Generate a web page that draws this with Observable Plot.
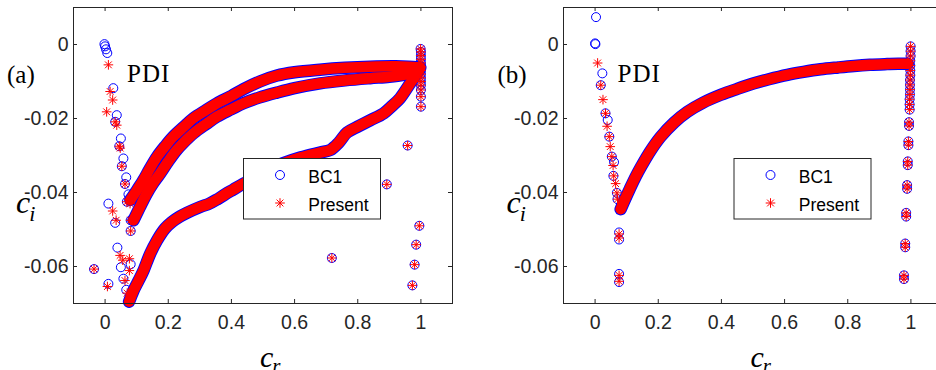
<!DOCTYPE html>
<html><head><meta charset="utf-8">
<script src="https://cdn.jsdelivr.net/npm/d3@7"></script>
<script src="https://cdn.jsdelivr.net/npm/@observablehq/plot@0.6"></script>
<style>
html,body{margin:0;padding:0;background:#fff;overflow:hidden;}
#wrap{position:relative;width:936px;height:370px;overflow:hidden;}
#wrap > svg{position:absolute;top:0;}
</style></head><body><div id="wrap"></div>
<script>
// ---------- axis ticks ----------
const xTicks = [0, 0.2, 0.4, 0.6, 0.8, 1];
const xTickLabels = ["0", "0.2", "0.4", "0.6", "0.8", "1"];
const yTicks = [0, -0.02, -0.04, -0.06];
const yTickLabels = ["0", "-0.02", "-0.04", "-0.06"];
const seriesNames = ["BC1", "Present"];

// ---------- panel (a) ----------
const aBandA_cr = [0.080,0.100,0.121,0.142,0.164,0.190,0.216,0.250,0.280,0.320,0.354,0.400,0.440,0.490,0.544,0.600,0.680,0.760,0.840,0.920,0.960,0.995];
const aBandA_ci = [-0.0420,-0.0395,-0.0367,-0.0335,-0.0304,-0.0275,-0.0249,-0.0222,-0.0199,-0.0177,-0.0159,-0.0139,-0.0120,-0.0100,-0.0084,-0.0075,-0.0068,-0.0063,-0.0060,-0.0059,-0.0060,-0.0062];
const aBandB_cr = [0.090,0.110,0.132,0.152,0.174,0.200,0.227,0.250,0.280,0.320,0.354,0.400,0.438,0.490,0.544,0.600,0.681,0.760,0.839,0.900,0.945,0.975,0.995];
const aBandB_ci = [-0.0475,-0.0440,-0.0403,-0.0375,-0.0349,-0.0316,-0.0285,-0.0264,-0.0240,-0.0215,-0.0195,-0.0175,-0.0159,-0.0143,-0.0130,-0.0118,-0.0105,-0.0097,-0.0091,-0.0087,-0.0082,-0.0076,-0.0068];
const aBandC_cr = [0.076,0.090,0.105,0.121,0.143,0.164,0.190,0.211,0.235,0.259,0.301,0.330,0.354,0.380,0.406,0.438,0.470,0.512,0.560,0.620,0.680,0.713,0.740,0.766,0.800,0.839,0.882,0.910,0.934,0.966,0.985,0.998];
const aBandC_ci = [-0.0695,-0.0665,-0.0640,-0.0612,-0.0565,-0.0530,-0.0497,-0.0480,-0.0466,-0.0455,-0.0439,-0.0430,-0.0419,-0.0405,-0.0392,-0.0376,-0.0362,-0.0340,-0.0322,-0.0305,-0.0292,-0.0285,-0.0265,-0.0238,-0.0222,-0.0205,-0.0186,-0.0165,-0.0145,-0.0105,-0.0080,-0.0062];
const aCol_cr = [0.999,1.000,1.000,1.000,1.000,1.000,1.000,1.000,1.000,1.000,1.000,1.000,1.000,1.000];
const aCol_ci = [-0.0012,-0.0020,-0.0030,-0.0040,-0.0050,-0.0060,-0.0070,-0.0080,-0.0090,-0.0100,-0.0110,-0.0123,-0.0141,-0.0168];
const aBC1_cr = [-0.035,-0.002,0.000,0.003,0.007,0.0105,0.0105,0.026,0.032,0.037,0.045,0.032,0.039,0.050,0.053,0.050,0.058,0.058,0.063,0.067,0.067,0.069,0.074,0.074,0.081,0.081,0.081,0.718,0.892,0.958,0.995,0.985,0.980,0.973];
const aBC1_ci = [-0.0607,0.0001,-0.0005,-0.0013,-0.0023,-0.0430,-0.0647,-0.0118,-0.0209,-0.0191,-0.0275,-0.0482,-0.0549,-0.0254,-0.0329,-0.0602,-0.0308,-0.0633,-0.0377,-0.0359,-0.0663,-0.0425,-0.0405,-0.0697,-0.0475,-0.0504,-0.0594,-0.0577,-0.0378,-0.0273,-0.0490,-0.0541,-0.0595,-0.0651];
const aPres_cr = [-0.035,0.0105,0.016,0.024,0.005,0.032,0.037,0.045,0.048,0.053,0.063,0.069,0.079,0.024,0.035,0.081,0.081,0.0475,0.056,0.077,0.077,0.063,0.0074,0.070,0.718,0.892,0.958,0.995,0.985,0.980,0.973];
const aPres_ci = [-0.0607,-0.0055,-0.0127,-0.0150,-0.0182,-0.0209,-0.0218,-0.0275,-0.0280,-0.0329,-0.0377,-0.0425,-0.0430,-0.0450,-0.0475,-0.0475,-0.0504,-0.0570,-0.0583,-0.0579,-0.0611,-0.0638,-0.0654,-0.0672,-0.0577,-0.0378,-0.0273,-0.0490,-0.0541,-0.0595,-0.0651];

// ---------- panel (b) ----------
const bBand_cr = [0.081,0.095,0.110,0.128,0.145,0.175,0.208,0.250,0.292,0.340,0.398,0.450,0.503,0.550,0.609,0.660,0.714,0.770,0.820,0.870,0.925,0.960,0.990];
const bBand_ci = [-0.0445,-0.0418,-0.0390,-0.0358,-0.0331,-0.0288,-0.0249,-0.0211,-0.0182,-0.0158,-0.0136,-0.0120,-0.0105,-0.0094,-0.0082,-0.0074,-0.0067,-0.0062,-0.0058,-0.0055,-0.0053,-0.0052,-0.0052];
const bCol_cr = [0.999,0.999,0.999,0.998,0.998,0.998,0.998,0.997,0.997,0.997,0.997,0.996,0.996,0.996];
const bCol_ci = [-0.0005,-0.0018,-0.0031,-0.0044,-0.0057,-0.0070,-0.0083,-0.0096,-0.0109,-0.0122,-0.0135,-0.0148,-0.0162,-0.0176];
const bPair_cr = [0.994,0.994,0.992,0.992,0.990,0.990,0.988,0.988,0.985,0.985,0.982,0.982,0.978,0.978];
const bPair_ci = [-0.0210,-0.0220,-0.0262,-0.0272,-0.0316,-0.0326,-0.0380,-0.0390,-0.0455,-0.0465,-0.0538,-0.0548,-0.0624,-0.0634];
const bBC1_cr = [0.003,0.000,0.001,0.023,0.018,0.033,0.040,0.045,0.053,0.060,0.058,0.069,0.071,0.076,0.076,0.076,0.076];
const bBC1_ci = [0.0074,0.0003,0.0001,-0.0078,-0.0110,-0.0186,-0.0204,-0.0249,-0.0303,-0.0318,-0.0355,-0.0401,-0.0418,-0.0508,-0.0527,-0.0620,-0.0642];
const bPres_cr = [0.008,0.018,0.025,0.033,0.038,0.045,0.048,0.053,0.057,0.059,0.065,0.069,0.071,0.076,0.076,0.076,0.076];
const bPres_ci = [-0.0050,-0.0110,-0.0149,-0.0186,-0.0221,-0.0249,-0.0276,-0.0303,-0.0327,-0.0355,-0.0376,-0.0401,-0.0418,-0.0512,-0.0523,-0.0624,-0.0640];

// ---------- drawing ----------
const BLUE = "#0000ff", RED = "#ff0000", AX = "#262626";
const SANS = "'Liberation Sans', Arial, Helvetica, sans-serif";
const SERIF = "'Liberation Serif', 'DejaVu Serif', serif";

const asterisk = {
  draw(ctx, size) {
    const r = Math.sqrt(size / Math.PI);
    for (const a of [0, 45, 90, 135]) {
      const t = a * Math.PI / 180, c = r * Math.cos(t), s = r * Math.sin(t);
      ctx.moveTo(c, s); ctx.lineTo(-c, -s);
    }
  }
};
const rows = (xs, ys) => xs.map((x, i) => ({cr: x, ci: ys[i]}));

function panel(bands, circles, stars) {
  const W = 470, H = 370, ML = 73, MR = 18, MT = 7, MB = 67;
  const fw = W - ML - MR, fh = H - MT - MB;
  const lineOpts = {x: "cr", y: "ci", curve: "catmull-rom", strokeLinecap: "round", strokeLinejoin: "round"};
  return Plot.plot({
    width: W, height: H, marginLeft: ML, marginRight: MR, marginTop: MT, marginBottom: MB,
    style: {fontFamily: SANS, fontSize: "19.5px", color: AX, background: "transparent", overflow: "visible"},
    x: {domain: [-0.1, 1.1]},
    y: {domain: [-0.07, 0.01]},
    marks: [
      ...bands.map(b => Plot.line(b, {...lineOpts, stroke: BLUE, strokeWidth: 12.5})),
      Plot.dot(circles, {x: "cr", y: "ci", r: 4.5, symbol: "circle", fill: "none", stroke: BLUE, strokeWidth: 1}),
      ...bands.map(b => Plot.line(b, {...lineOpts, stroke: RED, strokeWidth: 10.6})),
      Plot.dot(stars, {x: "cr", y: "ci", r: 4.8, symbol: asterisk, fill: "none", stroke: RED, strokeWidth: 1}),
      Plot.frame({stroke: AX, strokeWidth: 1}),
      Plot.tickX(xTicks, {x: d => d, stroke: AX, insetTop: fh - 4}),
      Plot.tickX(xTicks, {x: d => d, stroke: AX, insetBottom: fh - 4}),
      Plot.tickY(yTicks, {y: d => d, stroke: AX, insetLeft: fw - 4}),
      Plot.tickY(yTicks, {y: d => d, stroke: AX, insetRight: fw - 4}),
      Plot.axisX(xTicks, {tickSize: 0, tickPadding: 12, fontSize: 19.5, fill: AX, label: null,
        tickFormat: d => xTickLabels[xTicks.indexOf(d)]}),
      Plot.axisY(yTicks, {tickSize: 0, tickPadding: 5, fontSize: 19.5, fill: AX, label: null,
        tickFormat: d => yTickLabels[yTicks.indexOf(d)]})
    ]
  });
}

const wrap = document.getElementById("wrap");

const colA = rows(aCol_cr, aCol_ci);
const svgA = panel(
  [rows(aBandA_cr, aBandA_ci), rows(aBandB_cr, aBandB_ci), rows(aBandC_cr, aBandC_ci)],
  [...rows(aBC1_cr, aBC1_ci), ...colA],
  [...rows(aPres_cr, aPres_ci), ...colA]
);
svgA.style.left = "0px";
wrap.appendChild(svgA);

const colB = [...rows(bCol_cr, bCol_ci), ...rows(bPair_cr, bPair_ci)];
const svgB = panel(
  [rows(bBand_cr, bBand_ci)],
  [...rows(bBC1_cr, bBC1_ci), ...colB],
  [...rows(bPres_cr, bPres_ci), ...colB]
);
svgB.style.left = "490px";
wrap.appendChild(svgB);

// ---------- annotations, axis labels and legends ----------
const ov = d3.select(wrap).append("svg")
  .attr("width", 936).attr("height", 370)
  .style("position", "absolute").style("left", "0px").style("top", "0px");

function annot(dx, tag) {
  ov.append("text").attr("x", 7 + dx).attr("y", 83).attr("font-family", SERIF)
    .attr("font-size", 25).attr("fill", "#000").text(tag);
  ov.append("text").attr("x", 127 + dx).attr("y", 82).attr("font-family", SERIF)
    .attr("font-size", 25).attr("letter-spacing", 1).attr("fill", "#000").text("PDI");
  // y label c_i
  const yl = ov.append("text").attr("x", 16 + dx).attr("y", 213).attr("font-family", SERIF)
    .attr("font-style", "italic").attr("font-size", 32).attr("fill", "#000");
  yl.append("tspan").text("c");
  yl.append("tspan").attr("font-size", 22).attr("dy", 8).attr("dx", -1).text("i");
  // x label c_r
  const xl = ov.append("text").attr("x", 260 + dx).attr("y", 367).attr("font-family", SERIF)
    .attr("font-style", "italic").attr("font-size", 30).attr("fill", "#000");
  xl.append("tspan").text("c");
  xl.append("tspan").attr("font-size", 21).attr("dy", 6).attr("dx", -1).text("r");
  // legend
  const g = ov.append("g");
  g.append("rect").attr("x", 243.5 + dx).attr("y", 158.5).attr("width", 137).attr("height", 60.5)
    .attr("fill", "#fff").attr("stroke", AX).attr("stroke-width", 1);
  g.append("circle").attr("cx", 280 + dx).attr("cy", 175).attr("r", 4.5)
    .attr("fill", "none").attr("stroke", BLUE).attr("stroke-width", 1);
  g.append("path").attr("transform", `translate(${280 + dx},203)`)
    .attr("d", d3.symbol(asterisk, 4.8 * 4.8 * Math.PI)()).attr("fill", "none")
    .attr("stroke", RED).attr("stroke-width", 1);
  g.append("text").attr("x", 308.3 + dx).attr("y", 182.5).attr("font-family", SANS)
    .attr("font-size", 17.5).attr("fill", "#000").text(seriesNames[0]);
  g.append("text").attr("x", 308.3 + dx).attr("y", 210.5).attr("font-family", SANS)
    .attr("font-size", 17.5).attr("fill", "#000").text(seriesNames[1]);
}
annot(0, "(a)");
annot(490.5, "(b)");
</script></body></html>
